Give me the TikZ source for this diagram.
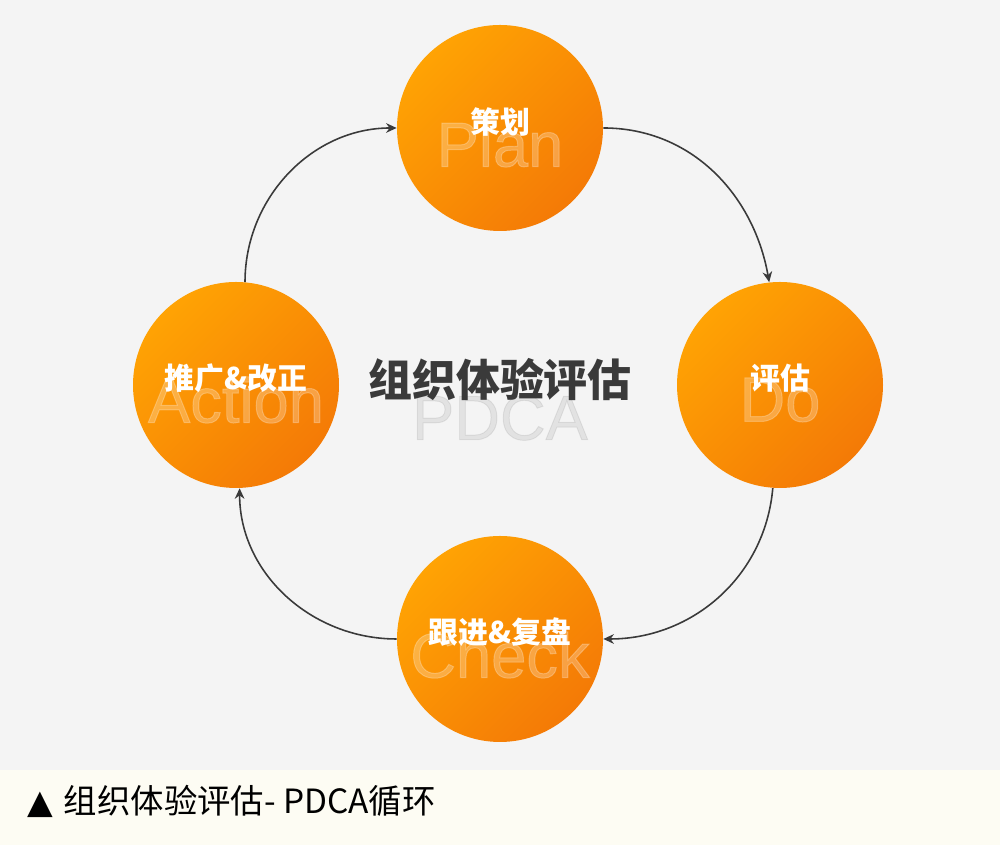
\documentclass[tikz,border=0pt]{standalone}
\usepackage{fontspec}
\usetikzlibrary{arrows.meta,positioning}
\newfontfamily\cjk{Noto Sans CJK SC}
\newfontfamily\latin[FakeBold=1.5]{Liberation Sans}
\newfontfamily\symb{DejaVu Sans}
\definecolor{fond}{HTML}{F4F4F4}
\definecolor{bande}{HTML}{FDFCF3}
\definecolor{orclair}{HTML}{FFA304}
\definecolor{orfonce}{HTML}{F47A06}
\definecolor{trait}{HTML}{3A3A3A}

\begin{document}
\begin{tikzpicture}[
    cercle/.style={
        circle,
        minimum size=4.12cm,
        inner sep=0pt,
        top color=orclair,
        bottom color=orfonce,
        shading angle=45
    },
    etiquette/.style={
        font=\cjk\bfseries\fontsize{17}{20}\selectfont,
        text=white
    },
    filigrane/.style={
        font=\latin\fontsize{36}{40}\selectfont,
        text=white,
        text opacity=0.25
    },
    titre/.style={
        font=\cjk\bfseries\fontsize{25}{30}\selectfont,
        text=trait
    },
    legende/.style={
        font=\cjk\fontsize{19}{23}\selectfont,
        text=black,
        anchor=west
    },
    fleche/.style={
        -{Stealth[length=6pt,width=5.5pt]},
        line width=0.9pt,
        draw=trait
    }
]
\useasboundingbox (0,0) rectangle (20,16.9);
\fill[fond] (0,1.5) rectangle (20,16.9);
\fill[bande] (0,0) rectangle (20,1.5);

\node[cercle] (plan) at (10,14.34) {};
\node[cercle] (do) at (15.6,9.2) {};
\node[cercle] (check) at (10,4.12) {};
\node[cercle] (action) at (4.72,9.2) {};

\node[filigrane] (planf) at (10,14.02) {Plan};
\node[filigrane] (dof) at (15.6,8.9) {Do};
\node[filigrane] (checkf) at (10,3.8) {Check};
\node[filigrane] (actionf) at (4.72,8.9) {Action};

\node[etiquette] (planl) at (10,14.46) {策划};
\node[etiquette] (dol) at (15.6,9.34) {评估};
\node[etiquette] (checkl) at (10,4.26) {跟进\&复盘};
\node[etiquette] (actionl) at (4.72,9.34) {推广\&改正};

\node[filigrane, text=black, text opacity=0.07] (pdca) at (10,8.54) {PDCA};
\node[titre] (titre) at (10,9.3) {组织体验评估};

\draw[fleche] (plan.east) to[out=0, in=100] (do.96);
\draw[fleche] (do.266) to[out=-95, in=0] (check.east);
\draw[fleche] (check.west) to[out=180, in=-90] (action.-88);
\draw[fleche] (action.85) to[out=90, in=180] (plan.west);

\node[legende] (caption) at (0.42,0.88) {{\symb ▲}\hspace{2pt} 组织体验评估- PDCA循环};

\end{tikzpicture}
\end{document}
